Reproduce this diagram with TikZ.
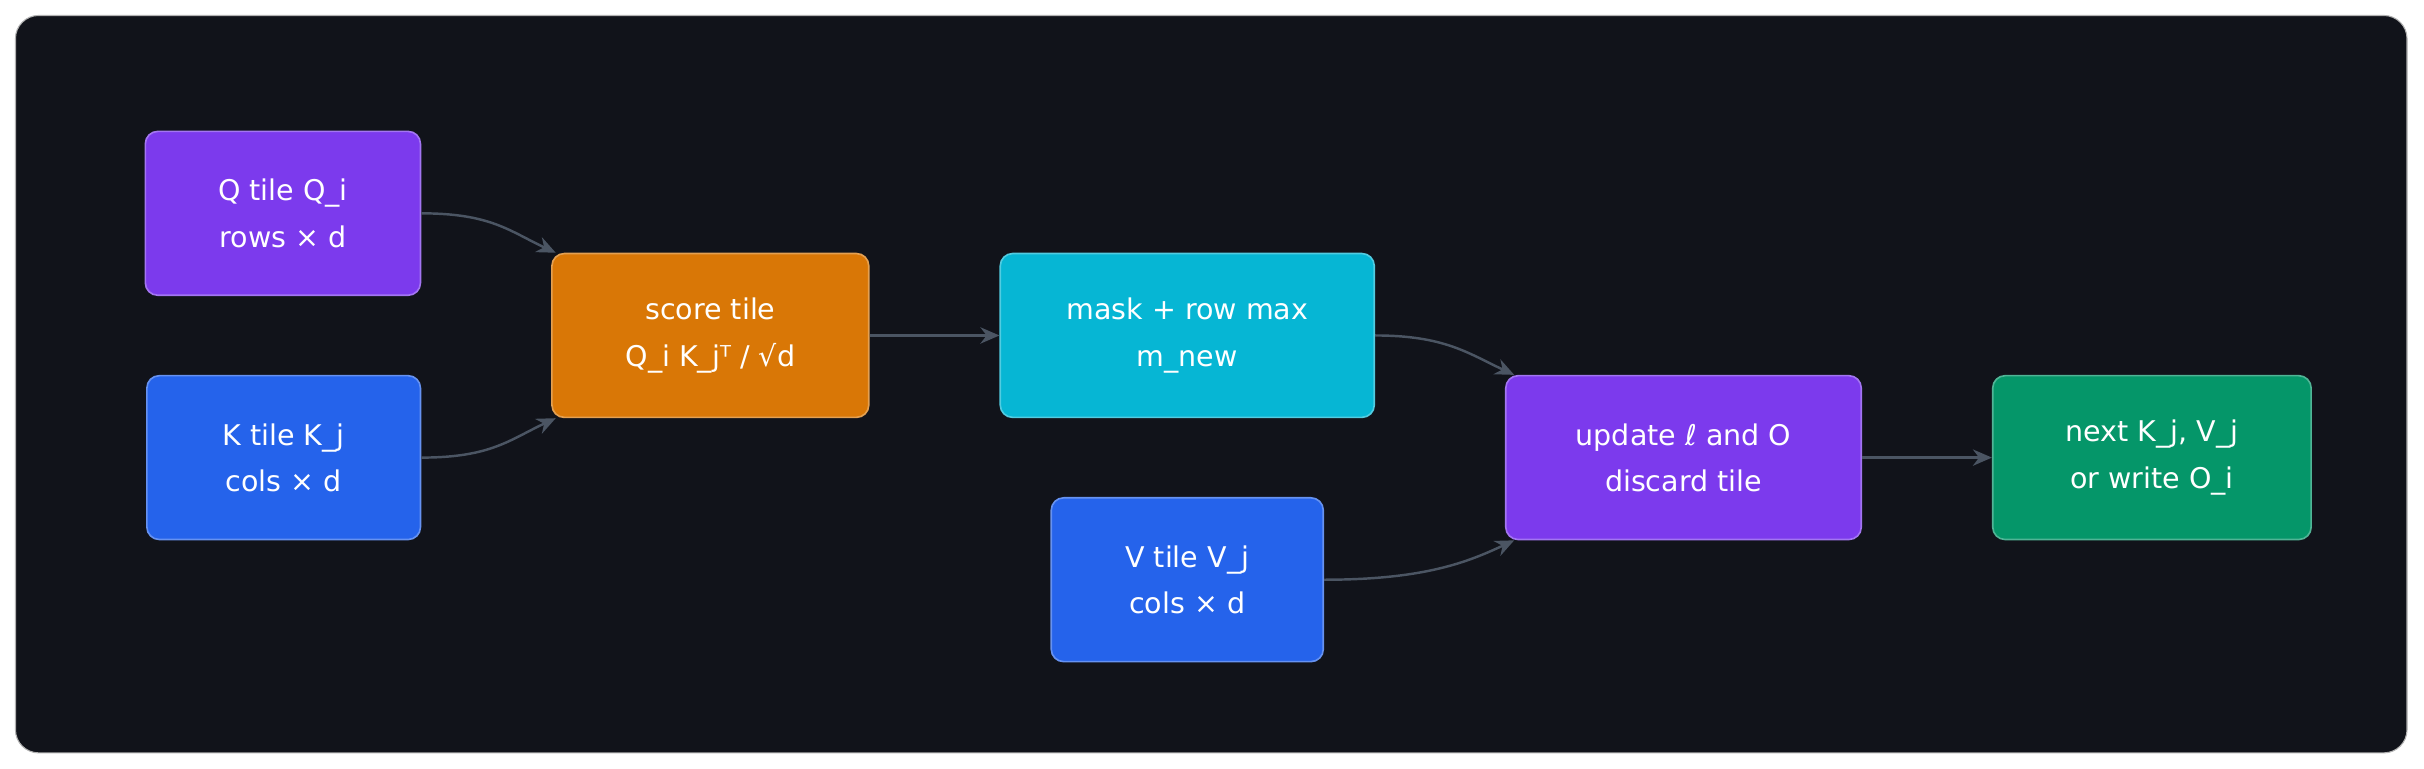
\documentclass[tikz,border=0pt]{standalone}
\usepackage{fontspec}
\setmainfont{DejaVu Sans}
\usetikzlibrary{arrows.meta}
\definecolor{bgp}{HTML}{11131A}
\definecolor{pur}{HTML}{7C3AED}
\definecolor{blu}{HTML}{2563EB}
\definecolor{ora}{HTML}{D97706}
\definecolor{cya}{HTML}{06B6D4}
\definecolor{grn}{HTML}{059669}
\definecolor{edg}{HTML}{4B5563}
\begin{document}
\begin{tikzpicture}[x=0.02cm,y=-0.02cm,
 box/.style={draw=#1!70!white,fill=#1,rounded corners=0.16cm,text=white,align=center,
   font=\fontsize{10.5}{17}\selectfont,inner sep=0pt,line width=0.6pt},
 ar/.style={draw=edg,line width=0.9pt,-{Stealth[length=7pt,width=6pt]}}]
\useasboundingbox[fill=white] (0,0) rectangle (1568,497);
\draw[fill=bgp,draw=gray!60,rounded corners=0.3cm] (10,10) rectangle (1557,487);
\node[box=pur,minimum width=3.56cm,minimum height=2.12cm] (Q) at (183,138) {Q tile Q\_i\\rows × d};
\node[box=blu,minimum width=3.54cm,minimum height=2.12cm] (K) at (183.5,296) {K tile K\_j\\cols × d};
\node[box=ora,minimum width=4.1cm,minimum height=2.12cm] (S) at (459.5,217) {score tile\\Q\_i K\_jᵀ / √d};
\node[box=cya,minimum width=4.84cm,minimum height=2.12cm] (M) at (768,217) {mask + row max\\m\_new};
\node[box=blu,minimum width=3.52cm,minimum height=2.12cm] (V) at (768,375) {V tile V\_j\\cols × d};
\node[box=pur,minimum width=4.6cm,minimum height=2.12cm] (U) at (1089,296) {update ℓ and O\\discard tile};
\node[box=grn,minimum width=4.12cm,minimum height=2.12cm] (N) at (1392,296) {next K\_j, V\_j\\or write O\_i};
\draw[ar] (Q.east) .. controls +(45,0) and +(-30,-14) .. ([xshift=0.06cm]S.north west);
\draw[ar] (K.east) .. controls +(45,0) and +(-30,14) .. ([xshift=0.06cm]S.south west);
\draw[ar] (S) -- (M);
\draw[ar] (M.east) .. controls +(45,0) and +(-30,-14) .. ([xshift=0.12cm]U.north west);
\draw[ar] (V.east) .. controls +(65,0) and +(-30,14) .. ([xshift=0.12cm]U.south west);
\draw[ar] (U) -- (N);
\end{tikzpicture}
\end{document}
